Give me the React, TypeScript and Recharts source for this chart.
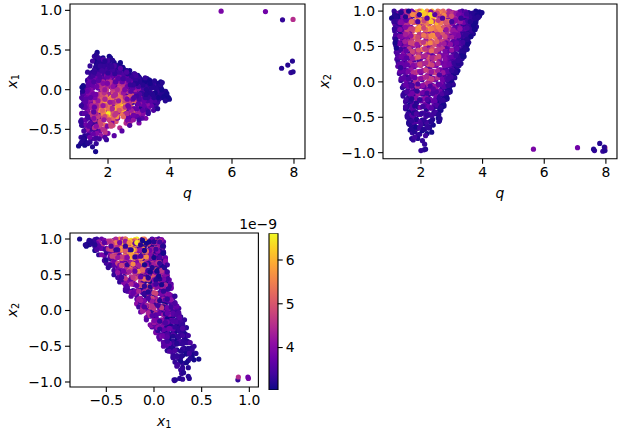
import { Bar, BarChart, Label, ReferenceArea, Scatter, ScatterChart, XAxis, YAxis } from "recharts";

// same samples in all three panels, same order in every array
const q = [
  1.16,1.38,1.62,1.85,2.02,2.27,2.5,2.72,2.96,3.2,3.55,3.95,
  1.22,1.45,1.7,1.92,2.14,2.36,2.6,2.85,3.05,3.34,3.68,3.9,
  1.13,1.3,1.55,1.78,1.98,2.2,2.44,2.66,2.9,3.12,3.45,3.78,
  1.28,1.52,1.75,1.95,2.1,2.32,2.55,2.78,3.0,3.26,3.6,3.84,
  1.12,1.34,1.58,1.82,2.05,2.24,2.48,2.7,2.94,3.18,3.5,3.9,
  1.2,1.42,1.66,1.9,2.12,2.34,2.58,2.82,3.08,3.36,3.64,3.86,
  1.15,1.38,1.6,1.84,2.0,2.22,2.46,2.68,2.92,3.16,3.42,3.76,
  1.25,1.48,1.72,1.94,2.16,2.4,2.62,2.86,3.1,3.3,3.56,3.8,
  1.15,1.36,1.58,1.8,2.02,2.26,2.5,2.74,2.98,3.22,3.5,3.8,
  1.24,1.46,1.68,1.9,2.12,2.36,2.6,2.84,3.06,3.3,3.58,3.72,
  1.18,1.4,1.62,1.86,2.08,2.3,2.54,2.78,3.02,3.26,3.44,3.66,
  1.3,1.52,1.76,1.96,2.18,2.42,2.66,2.9,3.14,3.36,3.54,3.76,
  1.15,1.36,1.58,1.82,2.04,2.26,2.48,2.72,2.96,3.2,3.46,3.7,
  1.24,1.46,1.7,1.92,2.14,2.38,2.6,2.84,3.08,3.3,3.52,3.66,
  1.18,1.42,1.64,1.88,2.1,2.32,2.56,2.78,3.02,3.24,3.42,3.6,
  1.32,1.54,1.76,1.98,2.2,2.44,2.66,2.9,3.12,3.36,3.5,3.62,
  1.15,1.38,1.6,1.84,2.06,2.28,2.5,2.74,2.98,3.2,3.4,3.55,
  1.26,1.5,1.72,1.94,2.16,2.4,2.62,2.86,3.08,3.3,3.46,3.52,
  1.2,1.44,1.66,1.88,2.12,2.34,2.56,2.8,3.02,3.24,3.36,3.5,
  1.18,1.4,1.62,1.86,2.08,2.3,2.52,2.76,2.98,3.18,3.36,3.5,
  1.28,1.5,1.74,1.96,2.18,2.42,2.64,2.86,3.06,3.26,3.42,3.46,
  1.22,1.46,1.68,1.9,2.14,2.36,2.58,2.8,3.02,3.22,3.32,3.44,
  1.2,1.42,1.64,1.88,2.1,2.32,2.54,2.76,2.96,3.14,3.3,3.4,
  1.3,1.52,1.76,1.98,2.2,2.44,2.64,2.84,3.04,3.2,3.34,3.36,
  1.24,1.48,1.7,1.92,2.14,2.38,2.58,2.8,3.0,3.18,3.26,3.38,
  1.22,1.44,1.66,1.9,2.12,2.34,2.56,2.76,2.96,3.12,3.24,3.3,
  1.32,1.54,1.78,2.0,2.22,2.44,2.66,2.86,3.02,3.16,3.22,3.28,
  1.26,1.5,1.72,1.94,2.16,2.38,2.6,2.8,2.98,3.08,3.18,3.26,
  1.25,1.46,1.68,1.9,2.1,2.3,2.5,2.7,2.88,3.02,3.12,3.2,
  1.34,1.56,1.78,2.0,2.2,2.4,2.6,2.8,2.94,3.06,3.14,3.18,
  1.3,1.5,1.7,1.9,2.1,2.3,2.48,2.66,2.84,2.96,3.04,3.1,
  1.38,1.6,1.8,2.0,2.2,2.4,2.58,2.76,2.9,3.0,3.06,3.08,
  1.35,1.54,1.74,1.94,2.12,2.3,2.48,2.64,2.8,2.92,3.0,3.05,
  1.44,1.64,1.84,2.04,2.22,2.4,2.56,2.72,2.86,2.96,3.02,2.98,
  1.4,1.58,1.76,1.94,2.12,2.28,2.44,2.6,2.74,2.86,2.92,2.95,
  1.48,1.68,1.86,2.04,2.2,2.36,2.52,2.68,2.8,2.9,2.94,2.84,
  1.42,1.6,1.76,1.92,2.08,2.24,2.4,2.54,2.66,2.76,2.82,2.85,
  1.5,1.68,1.84,2.0,2.16,2.32,2.48,2.6,2.72,2.8,2.84,2.7,
  1.5,1.64,1.78,1.94,2.08,2.22,2.36,2.48,2.58,2.66,2.72,2.75,
  1.56,1.7,1.86,2.0,2.14,2.3,2.42,2.54,2.62,2.7,2.74,2.5,
  1.5,1.62,1.76,1.9,2.04,2.18,2.3,2.42,2.52,2.6,2.65,2.48,
  1.55,1.66,1.78,1.92,2.04,2.16,2.28,2.38,2.48,2.56,2.6,2.3,
  1.6,1.68,1.78,1.88,1.98,2.08,2.18,2.26,2.34,2.4,2.62,2.58,
  1.65,1.72,1.8,1.88,1.96,2.04,2.12,2.2,2.28,2.35,1.7,1.9,
  1.33,1.49,1.68,1.88,2.07,2.19,2.41,2.58,2.79,3.03,3.28,3.63,
  1.25,1.41,1.59,1.81,2.01,2.25,2.47,2.69,2.88,3.14,3.4,3.72,
  1.37,1.56,1.73,1.91,2.11,2.31,2.53,2.75,2.99,3.22,3.48,3.82,
  1.29,1.47,1.64,1.86,2.06,2.28,2.52,2.76,3.0,3.24,3.47,3.7,
  1.22,1.39,1.57,1.77,1.97,2.18,2.38,2.64,2.88,3.12,3.38,3.6,
  1.33,1.52,1.69,1.92,2.1,2.33,2.56,2.8,3.04,3.28,3.52,3.78,
  1.28,1.44,1.62,1.84,2.05,2.27,2.5,2.74,2.98,3.2,3.44,3.64,
  1.21,1.38,1.55,1.74,1.95,2.16,2.4,2.63,2.88,3.1,3.33,3.58,
  1.32,1.5,1.67,1.9,2.09,2.34,2.57,2.82,3.05,3.27,3.5,3.74,
  1.27,1.43,1.6,1.82,2.03,2.24,2.46,2.7,2.94,3.16,3.38,3.56,
  1.2,1.37,1.54,1.74,1.95,2.17,2.39,2.62,2.85,3.08,3.3,3.5,
  1.31,1.5,1.68,1.9,2.09,2.33,2.55,2.78,3.0,3.22,3.44,3.62,
  1.26,1.42,1.6,1.8,2.02,2.22,2.44,2.68,2.9,3.12,3.32,3.48,
  1.2,1.36,1.53,1.72,1.93,2.14,2.36,2.6,2.82,3.05,3.26,3.44,
  1.3,1.48,1.66,1.87,2.08,2.3,2.52,2.75,2.96,3.16,3.38,3.52,
  1.26,1.44,1.62,1.84,2.04,2.26,2.48,2.7,2.92,3.12,3.28,3.4,
  1.34,1.52,1.72,1.92,2.12,2.34,2.56,2.78,3.0,3.16,3.34,3.44,
  1.27,1.44,1.62,1.82,2.02,2.24,2.46,2.68,2.88,3.06,3.2,3.34,
  1.36,1.54,1.72,1.92,2.14,2.36,2.58,2.78,2.98,3.14,3.28,3.36,
  1.29,1.46,1.64,1.84,2.04,2.24,2.44,2.64,2.84,3.0,3.14,3.24,
  1.38,1.56,1.74,1.96,2.16,2.36,2.56,2.76,2.92,3.08,3.2,3.22,
  1.32,1.5,1.68,1.86,2.06,2.26,2.44,2.62,2.8,2.96,3.08,3.16,
  1.4,1.58,1.76,1.96,2.16,2.34,2.54,2.72,2.88,3.02,3.12,3.0,
  1.36,1.52,1.72,1.9,2.08,2.26,2.44,2.62,2.78,2.92,3.02,2.86,
  1.44,1.62,1.82,2.0,2.18,2.36,2.54,2.7,2.84,2.98,1.6,1.8,
  1.44,1.6,1.78,1.96,2.14,2.32,2.5,2.66,2.8,2.92,1.72,2.1,
  1.5,1.68,1.88,2.06,2.24,2.42,2.58,2.74,2.88,1.9,2.3,2.6,
  1.46,1.64,1.8,1.98,2.14,2.3,2.46,2.62,2.76,2.88,1.72,2.06,
  1.54,1.72,1.9,2.06,2.22,2.38,2.54,2.68,2.82,1.88,2.2,2.5,
  1.52,1.68,1.84,2.0,2.16,2.3,2.46,2.6,2.72,1.7,1.96,2.24,
  1.56,1.7,1.84,1.98,2.12,2.26,2.4,2.52,2.64,1.8,2.06,2.34,
  1.58,1.7,1.84,1.98,2.1,2.24,2.36,2.48,2.58,1.76,2.0,2.2,
  1.62,1.74,1.86,1.98,2.1,2.22,2.34,1.7,1.84,1.96,2.08,2.2,
  1.34,1.42,1.5,1.56,1.62,1.7,1.85,2.0,2.2,2.4,2.6,2.9,
  3.2,3.5,3.7,3.75,3.9,3.98,3.85,3.6,3.3,3.0,2.7,2.45,
  2.2,1.95,1.9,1.6,1.05,1.15,1.25,1.35,1.5,1.18,1.16,1.2,
  1.14,1.12,1.2,1.75,2.05,2.15,1.9,1.8,2.0,2.1,2.15,2.12,
  5.65,7.08,7.63,7.97,7.6,7.8,7.95,7.9,7.97,
];

const x1 = [
  -.42,-.55,-.68,-.3,-.18,-.24,-.1,-.3,.02,-.15,.08,-.1,
  -.2,-.62,.05,-.45,-.28,-.12,-.4,.1,-.2,.05,-.05,-.12,
  -.6,-.1,-.3,-.58,-.2,-.36,.02,-.2,-.33,.08,-.12,-.02,
  -.66,-.4,-.52,-.1,-.25,.08,-.3,-.08,-.22,-.02,.04,-.06,
  -.68,-.25,-.62,-.15,-.35,-.2,.03,-.32,-.1,.06,-.14,-.08,
  -.45,-.66,-.4,-.5,-.08,-.28,-.42,.09,-.25,-.08,.02,-.02,
  -.1,-.5,-.2,-.35,-.55,.05,-.15,-.38,.06,-.22,.04,-.1,
  -.58,.02,-.62,-.25,-.45,-.12,.06,-.25,-.33,.1,-.18,-.04,
  -.3,-.58,-.1,-.5,-.22,-.4,-.05,-.2,-.34,.08,-.12,-.05,
  -.62,-.18,-.52,.04,-.3,-.15,-.42,.1,-.18,-.24,.02,-.1,
  -.05,-.45,-.6,-.12,-.4,.08,-.25,-.36,-.02,-.18,.06,.02,
  -.5,.02,-.35,-.55,-.08,-.3,.06,-.12,-.28,.1,-.12,-.06,
  -.45,-.2,-.52,-.05,-.3,.1,-.15,-.4,-.08,.1,-.16,.03,
  -.12,-.5,-.3,.08,-.42,-.18,-.02,-.3,.12,-.22,.04,-.04,
  -.3,.01,-.42,-.2,.05,-.35,-.1,.12,-.25,-.05,-.16,.08,
  -.5,-.34,-.08,-.46,-.16,.12,-.4,-.02,-.18,.06,-.2,-.08,
  -.38,-.15,-.48,.04,-.28,-.12,.12,-.35,-.05,.1,-.18,-.06,
  -.04,-.42,-.22,-.35,.1,-.18,-.38,.05,-.22,.12,-.12,.08,
  -.2,-.46,.1,-.12,-.4,.02,-.28,-.1,.14,-.26,.04,-.16,
  -.3,-.02,-.42,.08,-.2,-.36,.12,-.1,-.3,.04,-.18,.1,
  -.1,-.38,.02,-.28,.14,-.08,-.34,.1,-.16,.14,-.08,.04,
  .02,-.2,-.36,.12,-.3,.0,-.2,-.36,.14,-.1,.06,-.14,
  -.22,.05,-.36,-.1,.14,-.28,.04,-.14,-.32,.1,-.1,.08,
  .02,-.3,-.14,.16,-.32,-.02,.15,-.24,.08,-.14,.12,-.08,
  -.12,-.34,.12,-.24,-.04,.18,-.26,.02,.14,-.2,.02,-.04,
  -.1,-.3,.14,-.02,-.24,.18,-.08,-.26,.12,-.16,.08,-.06,
  .04,-.2,-.28,.18,-.12,.06,-.28,.1,-.16,.12,-.04,.1,
  -.22,.12,-.06,-.3,.16,-.18,.02,-.12,.16,-.22,.1,-.14,
  -.05,.2,-.24,.06,-.14,.18,-.2,.08,-.1,.14,-.08,.08,
  .12,-.18,.16,-.08,.2,-.24,.02,.14,-.18,.06,.12,-.1,
  .02,.18,-.18,.1,-.06,.22,-.16,.06,.17,-.12,.12,-.02,
  -.1,.22,-.02,.16,-.18,.08,-.08,.18,-.14,.1,.0,.12,
  .1,-.14,.24,-.02,.16,-.1,.2,.02,-.16,.12,.16,.04,
  -.06,.2,.06,.26,-.12,.12,.22,-.06,.08,.18,-.02,.14,
  .02,.26,-.08,.14,.24,.0,.18,-.08,.1,.16,.02,.1,
  .18,.04,.28,-.06,.12,.22,.02,.14,-.04,.06,.14,.2,
  .1,.28,-.04,.18,.04,.26,.1,-.02,.2,.14,.04,.08,
  .22,.02,.3,.12,-.03,.2,.06,.18,.0,.1,.17,.24,
  .1,.32,.02,.22,.1,.28,.04,.18,.08,.22,.14,.06,
  .24,.06,.3,.14,.02,.24,.1,.2,.04,.16,.12,.26,
  .14,.34,.06,.26,.12,.32,.05,.2,.1,.24,.16,.28,
  .2,.4,.1,.28,.36,.14,.24,.32,.1,.2,.16,.3,
  .38,.2,.34,.14,.28,.4,.18,.3,.24,.34,.18,.14,
  .47,.22,.36,.2,.3,.42,.26,.34,.22,.28,.3,.24,
  -.5,-.34,-.46,-.22,-.14,-.32,-.2,-.12,-.28,-.1,-.04,-.1,
  -.3,-.6,-.15,-.4,-.3,-.08,-.25,-.44,.0,-.3,-.2,.0,
  -.15,-.48,-.26,-.54,-.1,-.18,.06,-.14,-.06,-.36,.06,-.08,
  -.44,-.3,-.55,-.28,-.16,-.34,-.24,-.14,-.42,-.02,-.26,.06,
  -.52,-.08,-.38,-.44,-.34,-.04,-.48,-.1,-.14,-.3,-.04,-.16,
  -.16,-.56,-.2,-.08,-.46,-.22,.02,-.3,.04,-.14,.02,-.1,
  -.38,-.12,-.46,-.3,-.12,-.24,-.34,-.06,-.3,.0,-.08,-.12,
  -.1,-.46,-.2,-.4,-.22,-.36,-.02,-.2,-.12,-.36,.06,-.02,
  -.28,-.04,-.34,-.14,-.44,-.08,-.18,-.38,.0,-.18,-.14,.0,
  -.3,-.42,-.08,-.26,-.38,-.06,-.24,-.14,-.34,.02,-.14,.02,
  -.12,-.06,-.36,-.16,.06,-.3,-.16,-.3,.0,-.18,-.28,-.06,
  -.22,-.24,.04,-.34,-.12,-.22,.04,-.08,-.16,-.08,.06,-.1,
  -.3,-.06,-.3,-.1,-.24,-.32,.0,-.2,-.1,-.26,.0,-.1,
  -.18,-.36,.08,-.2,.02,-.1,-.26,.08,-.32,.06,-.14,.04,
  -.1,-.2,-.12,-.38,.08,-.16,-.12,-.26,.02,-.2,-.06,-.04,
  -.22,.0,-.24,.1,-.14,-.3,.06,-.16,-.24,.04,-.08,.02,
  -.34,.1,-.06,-.2,.06,-.1,-.22,.1,-.06,-.14,.06,-.06,
  -.16,.08,-.2,-.06,.12,-.16,-.02,-.22,.06,-.12,.04,-.04,
  .0,-.28,.1,-.12,-.24,.08,-.14,.04,-.18,.02,-.1,.08,
  -.12,.12,-.06,-.2,.1,-.08,.14,-.2,.04,-.12,.06,.0,
  .08,-.22,.16,.0,-.16,.02,-.1,.08,-.06,.1,-.1,-.06,
  -.02,.16,-.14,.06,-.16,.12,-.04,.18,-.12,.08,-.04,.1,
  .14,-.1,.04,.18,-.02,-.14,.1,-.02,.12,-.06,.06,.14,
  .06,-.06,.2,-.12,.1,-.04,.16,-.12,.06,-.08,.1,.2,
  -.1,.14,.0,.22,-.08,.08,-.02,.14,-.1,.04,.24,.24,
  .16,-.06,.1,.24,.02,.18,-.04,.1,.02,.08,.26,.26,
  .06,.2,-.04,.16,-.06,.1,.2,-.02,.12,.26,.24,.14,
  .2,.04,.24,.06,.18,.0,.12,.04,.16,.08,.3,.28,
  .1,.14,.0,.2,.08,.24,.0,.12,.06,.32,.28,.2,
  .18,.26,.08,.2,.04,.16,.1,.22,.06,.34,.32,.3,
  .22,.12,.28,.08,.2,.1,.26,.14,.2,.34,.3,.14,
  .26,.12,.3,.16,.26,.1,.22,.14,.24,.36,.34,.3,
  .3,.16,.36,.22,.3,.2,.28,.28,.4,.24,.38,.24,
  .22,.3,.36,.42,.44,.4,.38,.37,.3,.27,.22,.18,
  .15,.11,.1,.09,-.05,-.12,-.14,-.24,-.3,-.38,-.45,-.52,
  -.58,-.63,-.6,-.78,-.71,-.66,-.7,-.68,-.72,-.02,.03,.05,
  -.2,-.4,-.62,.3,.28,.25,.36,.24,.21,.3,.37,.29,
  .99,.985,.88,.885,.27,.31,.36,.215,.225,
];

const x2 = [
  .98,1.0,.97,.99,1.0,.98,.96,1.0,.99,.97,.98,.97,
  .96,.99,1.0,.97,.98,1.0,.99,.96,.98,1.0,.97,.99,
  1.0,.97,.99,.96,.99,1.0,.97,.98,1.0,.96,.99,1.0,
  .97,1.0,.98,1.0,.96,.99,1.0,.97,.96,.99,.96,.95,
  .92,.88,.9,.93,.87,.91,.94,.89,.92,.86,.9,.93,
  .88,.93,.91,.86,.92,.89,.94,.87,.9,.93,.88,.91,
  .94,.87,.9,.92,.88,.94,.86,.91,.93,.89,.87,.9,
  .9,.86,.93,.89,.92,.87,.91,.94,.88,.9,.86,.88,
  .82,.78,.8,.84,.76,.81,.83,.77,.85,.79,.82,.78,
  .84,.8,.77,.83,.79,.85,.76,.81,.84,.78,.8,.76,
  .78,.83,.86,.75,.81,.84,.79,.76,.82,.85,.77,.8,
  .81,.76,.84,.78,.83,.77,.85,.8,.75,.82,.79,.74,
  .72,.68,.7,.74,.66,.71,.73,.67,.75,.69,.72,.68,
  .74,.66,.71,.73,.69,.75,.67,.7,.72,.65,.73,.68,
  .66,.72,.69,.75,.67,.73,.7,.74,.68,.71,.66,.69,
  .71,.67,.73,.65,.74,.69,.75,.66,.72,.7,.67,.64,
  .62,.58,.6,.64,.56,.61,.63,.57,.65,.59,.6,.56,
  .64,.56,.61,.63,.59,.65,.57,.6,.62,.55,.58,.62,
  .58,.63,.55,.6,.65,.57,.62,.59,.64,.56,.6,.52,
  .52,.48,.5,.54,.46,.51,.53,.47,.55,.49,.5,.46,
  .54,.46,.51,.53,.49,.55,.47,.5,.52,.45,.48,.52,
  .48,.53,.45,.5,.55,.47,.52,.49,.54,.46,.44,.5,
  .42,.38,.4,.44,.36,.41,.43,.37,.45,.39,.4,.36,
  .44,.36,.41,.43,.39,.45,.37,.4,.42,.35,.38,.42,
  .38,.43,.35,.4,.45,.37,.42,.39,.44,.36,.34,.4,
  .32,.28,.3,.34,.26,.31,.33,.27,.35,.29,.3,.26,
  .34,.26,.31,.33,.29,.35,.27,.3,.32,.25,.28,.32,
  .28,.33,.25,.3,.35,.27,.32,.29,.34,.26,.24,.3,
  .22,.18,.2,.24,.16,.21,.23,.17,.25,.19,.2,.16,
  .24,.16,.21,.23,.19,.25,.17,.2,.22,.15,.18,.22,
  .12,.08,.1,.14,.06,.11,.13,.07,.15,.09,.1,.06,
  .14,.06,.11,.13,.09,.15,.07,.1,.12,.05,.08,.12,
  .02,-.02,0,.04,-.04,.01,.03,-.03,.05,-.01,0,-.04,
  .04,-.04,.01,.03,-.01,.05,-.03,0,.02,-.05,-.02,.02,
  -.08,-.12,-.1,-.06,-.14,-.09,-.07,-.13,-.05,-.11,-.1,-.14,
  -.06,-.14,-.09,-.07,-.11,-.05,-.13,-.1,-.08,-.15,-.12,-.08,
  -.18,-.22,-.2,-.16,-.24,-.19,-.17,-.23,-.15,-.21,-.2,-.24,
  -.16,-.24,-.19,-.17,-.21,-.15,-.23,-.2,-.18,-.25,-.22,-.18,
  -.28,-.32,-.3,-.26,-.34,-.29,-.27,-.33,-.25,-.31,-.3,-.34,
  -.26,-.34,-.29,-.27,-.31,-.25,-.33,-.3,-.28,-.35,-.32,-.28,
  -.38,-.42,-.4,-.36,-.44,-.39,-.37,-.43,-.35,-.41,-.4,-.44,
  -.48,-.52,-.5,-.46,-.54,-.49,-.47,-.53,-.45,-.51,-.55,-.56,
  -.58,-.62,-.6,-.56,-.64,-.59,-.57,-.63,-.55,-.61,-.52,-.56,
  -.68,-.72,-.7,-.66,-.74,-.69,-.67,-.73,-.65,-.71,-.8,-.75,
  .95,.93,.97,.94,.96,.95,.93,.97,.94,.96,.95,.93,
  .96,.94,.93,.95,.97,.94,.96,.93,.95,.97,.94,.96,
  .94,.97,.95,.93,.96,.95,.97,.94,.93,.95,.96,.94,
  .85,.83,.87,.84,.86,.85,.83,.87,.84,.86,.85,.83,
  .86,.84,.83,.85,.87,.84,.86,.83,.85,.87,.84,.86,
  .84,.87,.85,.83,.86,.85,.87,.84,.83,.85,.86,.84,
  .75,.73,.77,.74,.76,.75,.73,.77,.74,.76,.75,.73,
  .76,.74,.73,.75,.77,.74,.76,.73,.75,.77,.74,.76,
  .74,.77,.75,.73,.76,.75,.77,.74,.73,.75,.76,.74,
  .65,.63,.67,.64,.66,.65,.63,.67,.64,.66,.65,.63,
  .66,.64,.63,.65,.67,.64,.66,.63,.65,.67,.64,.66,
  .64,.67,.65,.63,.66,.65,.67,.64,.63,.65,.66,.64,
  .55,.53,.57,.54,.56,.55,.53,.57,.54,.56,.55,.53,
  .56,.54,.53,.55,.57,.54,.56,.53,.55,.57,.54,.56,
  .54,.57,.55,.53,.56,.55,.57,.54,.53,.55,.56,.54,
  .45,.43,.47,.44,.46,.45,.43,.47,.44,.46,.45,.43,
  .46,.44,.43,.45,.47,.44,.46,.43,.45,.47,.44,.46,
  .35,.33,.37,.34,.36,.35,.33,.37,.34,.36,.35,.33,
  .36,.34,.33,.35,.37,.34,.36,.33,.35,.37,.34,.36,
  .25,.23,.27,.24,.26,.25,.23,.27,.24,.26,.25,.23,
  .26,.24,.23,.25,.27,.24,.26,.23,.25,.27,.24,.26,
  .15,.13,.17,.14,.16,.15,.13,.17,.14,.16,.15,.13,
  .16,.14,.13,.15,.17,.14,.16,.13,.15,.17,.14,.16,
  .05,.03,.07,.04,.06,.05,.03,.07,.04,.06,.05,.03,
  .06,.04,.03,.05,.07,.04,.06,.03,.05,.07,.04,.06,
  -.05,-.07,-.03,-.06,-.04,-.05,-.07,-.03,-.06,-.04,-.05,-.07,
  -.04,-.06,-.07,-.05,-.03,-.06,-.04,-.07,-.05,-.03,-.06,-.04,
  -.15,-.17,-.13,-.16,-.14,-.15,-.17,-.13,-.16,-.14,-.15,-.17,
  -.14,-.16,-.17,-.15,-.13,-.16,-.14,-.17,-.15,-.13,-.16,-.14,
  -.25,-.27,-.23,-.26,-.24,-.25,-.27,-.23,-.26,-.24,-.25,-.27,
  -.35,-.37,-.33,-.36,-.34,-.35,-.37,-.33,-.36,-.34,-.35,-.37,
  -.45,-.47,-.43,-.46,-.44,-.45,-.47,-.43,-.46,-.44,-.45,-.47,
  -.55,-.57,-.53,-.56,-.54,-.65,-.57,-.66,-.64,-.65,-.67,-.63,
  .2,-.2,-.35,-.5,-.6,-.55,-.45,-.6,-.25,-.1,.1,.05,
  .3,.6,.8,.9,.96,.98,.92,.85,.9,.85,.9,.95,
  .9,.95,.85,1.0,.9,.95,.93,.98,.92,.6,.55,.48,
  .75,.85,.92,-.82,-.83,-.76,-.8,-.78,-.97,-.96,-.95,-.88,
  -.95,-.93,-.97,-.93,-.95,-.87,-.92,-.98,-.97,
];

// colour values, in units of 1e-9
const z = [
  3.6,3.7,3.3,6.0,6.5,6.3,5.8,5.2,4.0,4.3,3.2,3.1,
  3.9,3.4,3.8,5.2,6.4,6.1,4.9,3.6,4.5,3.4,3.3,3.1,
  3.3,3.8,5.2,4.2,6.6,5.6,4.6,5.4,4.4,3.4,3.6,3.1,
  3.2,4.4,3.9,5.3,6.5,4.0,5.3,5.2,4.7,3.7,3.2,3.2,
  3.1,4.0,3.5,5.5,5.9,6.3,4.4,5.0,4.8,3.5,3.6,3.1,
  3.4,3.3,4.8,4.5,5.6,6.2,4.8,3.7,4.4,3.7,3.3,3.2,
  3.5,3.9,5.3,5.6,4.0,4.2,5.8,4.5,3.6,4.2,3.2,3.2,
  3.2,3.6,3.4,5.8,4.9,5.7,4.2,5.0,4.2,3.3,3.4,3.2,
  3.9,3.3,4.4,4.5,6.0,5.0,5.0,5.3,4.3,3.4,3.5,3.2,
  3.1,3.9,3.7,4.2,6.2,5.9,4.4,3.8,4.8,4.0,3.3,3.2,
  3.4,3.6,3.4,5.4,4.9,4.3,5.6,4.4,4.1,4.0,3.3,3.2,
  3.3,3.8,4.8,3.9,5.5,5.4,4.1,4.8,4.2,3.3,3.4,3.2,
  3.3,3.9,3.4,5.0,5.8,4.0,5.5,4.3,4.3,3.4,3.4,3.1,
  3.6,3.4,4.6,4.3,4.6,5.7,4.8,4.4,3.5,3.9,3.2,3.2,
  3.5,3.8,3.8,5.5,4.4,4.6,5.2,3.7,4.1,4.0,3.4,3.2,
  3.2,3.9,4.8,3.9,5.8,4.1,4.0,4.6,4.2,3.3,3.4,3.2,
  3.4,3.9,3.3,4.2,5.3,5.4,4.0,3.9,4.3,3.4,3.4,3.2,
  3.6,3.4,4.6,4.0,4.2,5.4,3.9,4.2,4.0,3.3,3.3,3.1,
  3.6,3.3,3.9,5.0,3.9,4.6,4.7,4.5,3.4,3.5,3.2,3.2,
  3.4,3.8,3.3,4.2,5.2,4.0,4.1,4.6,3.7,3.5,3.4,3.1,
  3.6,3.4,4.2,4.6,4.0,5.2,3.7,3.7,3.9,3.2,3.3,3.1,
  3.6,4.2,3.5,4.0,4.5,4.9,4.6,3.6,3.4,3.6,3.1,3.2,
  3.5,3.8,3.3,4.7,4.2,4.2,4.4,4.3,3.4,3.3,3.3,3.1,
  3.5,3.8,4.5,3.7,4.0,5.0,3.7,3.8,3.5,3.4,3.1,3.2,
  3.5,3.4,3.8,4.6,5.0,3.6,3.9,4.0,3.4,3.4,3.3,3.1,
  3.5,3.3,3.6,4.6,4.1,3.7,4.6,3.7,3.5,3.5,3.2,3.2,
  3.5,3.7,3.5,3.8,4.8,4.3,3.5,3.6,3.6,3.2,3.3,3.1,
  3.3,3.5,4.2,3.5,3.9,4.6,4.2,3.9,3.3,3.2,3.2,3.2,
  3.6,3.3,3.6,4.5,4.7,3.8,3.8,3.8,3.8,3.2,3.3,3.1,
  3.3,3.7,3.7,4.6,3.6,3.9,4.3,3.5,3.5,3.4,3.1,3.2,
  3.4,3.4,3.8,4.1,4.6,3.4,4.0,3.7,3.3,3.4,3.1,3.2,
  3.5,3.3,4.2,3.8,4.1,4.3,4.0,3.4,3.4,3.3,3.3,3.1,
  3.3,3.7,3.3,4.5,3.9,4.4,3.5,3.9,3.4,3.3,3.1,3.2,
  3.5,3.4,4.1,3.4,4.3,3.9,3.4,3.6,3.4,3.1,3.3,3.1,
  3.3,3.2,4.0,3.8,3.4,4.2,3.5,3.6,3.4,3.1,3.2,3.1,
  3.3,3.8,3.2,4.3,3.8,3.3,3.8,3.3,3.4,3.3,3.1,3.1,
  3.4,3.2,3.9,3.6,4.1,3.3,3.6,3.5,3.2,3.2,3.3,3.1,
  3.2,3.7,3.2,3.8,4.0,3.4,3.7,3.3,3.4,3.2,3.1,3.1,
  3.4,3.1,3.7,3.4,3.8,3.3,3.7,3.3,3.4,3.1,3.1,3.2,
  3.2,3.6,3.2,3.7,3.9,3.3,3.6,3.2,3.3,3.1,3.1,3.1,
  3.3,3.1,3.6,3.3,3.7,3.2,3.6,3.3,3.3,3.1,3.1,3.1,
  3.3,3.1,3.6,3.3,3.1,3.6,3.3,3.2,3.2,3.1,3.1,3.1,
  3.1,3.4,3.2,3.6,3.3,3.1,3.4,3.2,3.2,3.1,3.2,3.2,
  3.1,3.3,3.2,3.4,3.3,3.1,3.2,3.1,3.2,3.1,3.2,3.3,
  4.2,4.8,4.6,6.1,6.4,6.0,6.2,5.6,4.9,4.6,3.8,3.3,
  3.9,3.8,4.8,5.4,6.5,5.9,6.1,4.7,4.4,4.2,3.7,3.2,
  4.0,4.5,5.6,4.6,6.2,6.4,4.8,5.6,4.9,3.9,3.4,3.1,
  3.8,4.6,4.0,5.8,6.3,5.7,6.0,5.5,3.9,4.2,3.5,3.2,
  3.4,4.0,4.5,4.8,5.7,5.4,4.5,5.4,5.2,4.0,3.8,3.4,
  4.0,3.7,5.3,5.3,4.8,6.2,4.7,5.0,4.0,4.2,3.4,3.1,
  3.7,4.2,4.1,5.5,5.9,6.0,5.2,5.0,4.3,3.9,3.7,3.3,
  3.5,3.6,4.8,4.8,5.8,5.2,5.4,5.5,4.8,3.6,3.5,3.3,
  4.0,4.0,4.7,5.7,4.8,5.6,5.6,4.2,4.2,4.1,3.5,3.1,
  3.7,3.6,4.5,5.2,4.8,5.3,5.4,5.0,3.7,3.9,3.6,3.2,
  3.5,4.0,4.0,5.3,4.6,5.0,5.7,4.4,4.3,4.0,3.3,3.3,
  3.9,4.3,4.2,4.8,5.4,5.6,4.6,4.9,4.3,3.9,3.3,3.1,
  3.6,4.0,4.4,5.0,5.3,4.6,4.9,4.8,4.4,3.6,3.5,3.2,
  3.4,3.5,4.0,4.9,4.9,5.5,5.0,4.3,3.8,3.6,3.5,3.2,
  3.8,4.3,4.8,4.2,4.6,5.6,5.2,4.3,4.1,3.7,3.4,3.1,
  3.6,4.0,4.6,4.4,5.4,4.6,4.6,4.6,3.7,3.5,3.4,3.2,
  3.4,3.7,4.8,5.0,4.6,5.3,4.6,3.9,4.2,3.7,3.2,3.2,
  3.6,3.7,4.4,4.9,4.4,5.0,4.8,3.9,3.8,3.7,3.3,3.2,
  3.8,3.6,4.2,5.1,4.4,4.4,4.8,4.0,3.7,3.4,3.3,3.1,
  3.6,3.7,4.4,4.2,4.4,5.0,4.1,3.8,3.9,3.5,3.3,3.2,
  3.7,3.7,4.0,4.8,4.4,4.8,4.4,3.9,3.8,3.3,3.3,3.2,
  3.7,3.6,4.2,4.7,4.2,4.6,4.8,3.8,3.7,3.6,3.3,3.1,
  3.7,3.9,4.5,4.1,4.8,4.2,4.3,4.2,3.6,3.5,3.2,3.3,
  3.6,3.8,3.8,4.4,4.6,4.8,4.0,3.9,3.8,3.4,3.2,3.4,
  3.6,3.8,4.6,4.1,4.4,4.7,4.5,3.8,3.5,3.4,3.5,3.7,
  3.4,3.8,4.4,3.8,4.6,3.9,4.2,3.9,3.6,3.2,3.4,3.6,
  3.7,3.5,4.5,4.1,4.4,4.2,3.6,3.6,3.3,3.5,3.5,3.7,
  3.3,3.8,3.4,4.3,3.8,4.4,3.9,3.8,3.3,3.2,3.3,3.4,
  3.5,3.8,4.2,3.8,4.1,3.5,3.9,3.5,3.3,3.3,3.4,3.5,
  3.4,3.3,4.0,3.7,4.1,3.8,3.7,3.3,3.3,3.2,3.3,3.3,
  3.3,3.6,3.3,3.9,3.6,3.8,3.3,3.5,3.2,3.2,3.4,3.6,
  3.3,3.6,3.3,3.7,3.4,3.6,3.4,3.4,3.2,3.2,3.3,3.3,
  3.2,3.5,3.2,3.5,3.3,3.3,3.2,3.2,3.1,3.4,3.2,3.3,
  3.3,3.3,3.4,3.3,3.2,3.3,3.5,3.4,3.5,3.6,3.5,3.4,
  3.3,3.2,3.1,3.2,3.1,3.1,3.2,3.2,3.3,3.4,3.5,3.6,
  3.6,3.3,3.5,3.1,3.1,3.2,3.1,3.2,3.2,3.2,3.1,3.1,
  3.3,3.3,3.2,3.3,3.3,3.4,3.2,3.4,3.3,3.3,3.2,3.3,
  3.9,3.8,3.3,4.5,3.2,3.2,3.2,3.3,3.2,
];

const qTicks = [2, 4, 6, 8];
const unitTicks = [-1, -0.5, 0, 0.5, 1];
const x1Ticks = [-0.5, 0, 0.5, 1];
const colorTicks = [4, 5, 6];
const Z_MIN = 3.03;
const Z_MAX = 6.61;

const plasma = ["#0d0887","#41049d","#6a00a8","#8f0da4","#b12a90","#cc4778","#e16462","#f2844b","#fca636","#fcce25","#f0f921"];

const samples = q.map((v, i) => ({ q: v, x1: x1[i], x2: x2[i], z: z[i] }));
const colorRow = [{ name: "z", span: [Z_MIN, Z_MAX] }];

const FONT = "DejaVu Sans";
const FONT_SIZE = 13.9;
const GUTTER = 70;
const DOT_RADIUS = 2.6;
const tickStyle = { fill: "#000", fontSize: FONT_SIZE, fontFamily: FONT };

function hexToRgb(hex: string) {
  return [1, 3, 5].map((i) => parseInt(hex.slice(i, i + 2), 16));
}

function plasmaColor(value: number) {
  const t = Math.min(1, Math.max(0, (value - Z_MIN) / (Z_MAX - Z_MIN))) * (plasma.length - 1);
  const i = Math.min(plasma.length - 2, Math.floor(t));
  const a = hexToRgb(plasma[i]);
  const b = hexToRgb(plasma[i + 1]);
  const c = a.map((v, k) => Math.round(v + (b[k] - v) * (t - i)));
  return `rgb(${c[0]},${c[1]},${c[2]})`;
}

const formatUnit = (v: number) => v.toFixed(1).replace("-", "\u2212");

function Dot(props: any) {
  return <circle cx={props.cx} cy={props.cy} r={DOT_RADIUS} fill={plasmaColor(props.payload.z)} />;
}

function AxisName({ x, y, name, sub, vertical }: { x: number; y: number; name: string; sub?: string; vertical?: boolean }) {
  return (
    <text
      x={x}
      y={y}
      textAnchor="middle"
      transform={vertical ? `rotate(-90 ${x} ${y})` : undefined}
      fontFamily={FONT}
      fontSize={FONT_SIZE}
      fill="#000"
    >
      <tspan fontStyle="italic">{name}</tspan>
      {sub ? (
        <tspan fontSize={9.7} dy={2}>
          {sub}
        </tspan>
      ) : null}
    </text>
  );
}

interface PanelProps {
  left: number;
  top: number;
  plotW: number;
  plotH: number;
  xKey: string;
  yKey: string;
  xDomain: [number, number];
  yDomain: [number, number];
  xTicks: number[];
  yTicks: number[];
  xName: string;
  xSub?: string;
  yName: string;
  ySub?: string;
  xFormat?: (v: number) => string;
  xNameY: number;
  yNameX: number;
}

function Panel(p: PanelProps) {
  const chartLeft = p.left - GUTTER;
  const chartTop = p.top - 4;
  return (
    <div style={{ position: "absolute", left: chartLeft, top: chartTop }}>
      <ScatterChart
        width={p.plotW + GUTTER + 4}
        height={p.plotH + 46}
        margin={{ top: 4, right: 4, bottom: 0, left: 0 }}
      >
        <XAxis
          type="number"
          dataKey={p.xKey}
          domain={p.xDomain}
          ticks={p.xTicks}
          interval={0}
          allowDataOverflow
          height={42}
          tick={tickStyle}
          tickSize={5}
          tickMargin={3}
          tickFormatter={p.xFormat}
          axisLine={false}
          tickLine={{ stroke: "#000", strokeWidth: 1.1 }}
        >
          <Label
            content={() => (
              <AxisName x={GUTTER + p.plotW / 2} y={p.xNameY - chartTop} name={p.xName} sub={p.xSub} />
            )}
          />
        </XAxis>
        <YAxis
          type="number"
          dataKey={p.yKey}
          domain={p.yDomain}
          ticks={p.yTicks}
          interval={0}
          allowDataOverflow
          width={GUTTER}
          tick={tickStyle}
          tickSize={5}
          tickMargin={3}
          tickFormatter={formatUnit}
          axisLine={false}
          tickLine={{ stroke: "#000", strokeWidth: 1.1 }}
        >
          <Label
            content={() => (
              <AxisName x={p.yNameX - chartLeft} y={4 + p.plotH / 2} name={p.yName} sub={p.ySub} vertical />
            )}
          />
        </YAxis>
        <Scatter data={samples} isAnimationActive={false} shape={Dot} />
        <ReferenceArea
          x1={p.xDomain[0]}
          x2={p.xDomain[1]}
          y1={p.yDomain[0]}
          y2={p.yDomain[1]}
          fill="none"
          fillOpacity={0}
          stroke="#000"
          strokeWidth={1.1}
        />
      </ScatterChart>
    </div>
  );
}

function ColorBar() {
  return (
    <div style={{ position: "absolute", left: 229, top: 210 }}>
      <BarChart
        width={90}
        height={180}
        data={colorRow}
        margin={{ top: 23.3, right: 0, bottom: 0, left: 40 }}
        barCategoryGap={0}
      >
        <defs>
          <linearGradient id="plasmaBar" x1="0" y1="1" x2="0" y2="0">
            {plasma.map((c, i) => (
              <stop key={c} offset={i / (plasma.length - 1)} stopColor={c} />
            ))}
          </linearGradient>
        </defs>
        <XAxis dataKey="name" hide height={0} />
        <YAxis
          orientation="right"
          domain={[Z_MIN, Z_MAX]}
          ticks={colorTicks}
          interval={0}
          allowDataOverflow
          width={41.3}
          tick={tickStyle}
          tickSize={5}
          tickMargin={3}
          axisLine={false}
          tickLine={{ stroke: "#000", strokeWidth: 1.1 }}
        >
          <Label
            content={() => (
              <text x={48} y={19} textAnchor="end" fontFamily={FONT} fontSize={FONT_SIZE} fill="#000">
                1e{"\u2212"}9
              </text>
            )}
          />
        </YAxis>
        <Bar dataKey="span" fill="url(#plasmaBar)" stroke="#000" strokeWidth={1.1} isAnimationActive={false} />
      </BarChart>
    </div>
  );
}

export default function App() {
  return (
    <div style={{ position: "absolute", left: 0, top: 0, width: 624, height: 432, background: "#fff" }}>
      <Panel
        left={70.3}
        top={4.3}
        plotW={235}
        plotH={154.7}
        xKey="q"
        yKey="x1"
        xDomain={[0.774, 8.355]}
        yDomain={[-0.87, 1.08]}
        xTicks={qTicks}
        yTicks={unitTicks.slice(1, 4).concat(1)}
        xName="q"
        yName="x"
        ySub="1"
        xNameY={198}
        yNameX={17}
      />
      <Panel
        left={383.3}
        top={4.3}
        plotW={234}
        plotH={154.7}
        xKey="q"
        yKey="x2"
        xDomain={[0.77, 8.36]}
        yDomain={[-1.085, 1.1]}
        xTicks={qTicks}
        yTicks={unitTicks}
        xName="q"
        yName="x"
        ySub="2"
        xNameY={198}
        yNameX={329}
      />
      <Panel
        left={70.3}
        top={233.3}
        plotW={188.4}
        plotH={154}
        xKey="x1"
        yKey="x2"
        xDomain={[-0.881, 1.095]}
        yDomain={[-1.07, 1.084]}
        xTicks={x1Ticks}
        yTicks={unitTicks}
        xFormat={formatUnit}
        xName="x"
        xSub="1"
        yName="x"
        ySub="2"
        xNameY={426}
        yNameX={17}
      />
      <ColorBar />
    </div>
  );
}
